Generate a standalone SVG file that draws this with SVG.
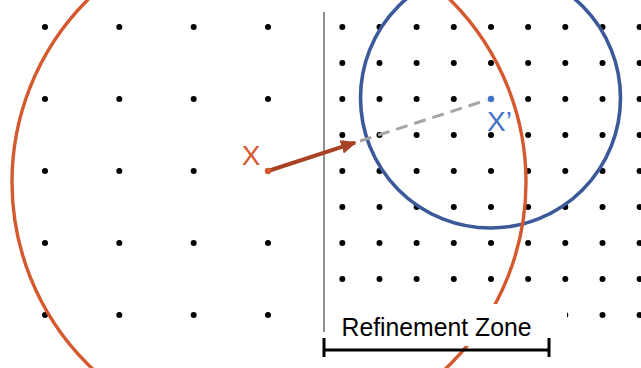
<svg xmlns="http://www.w3.org/2000/svg" width="641" height="368" viewBox="0 0 641 368">
  <defs>
    <style>
      .dot { fill: #000; }
      .lbl { font-family: "Liberation Sans", Arial, sans-serif; }
    </style>
    <marker id="ah" markerUnits="userSpaceOnUse" markerWidth="16" markerHeight="14" refX="14" refY="7" orient="auto">
      <path d="M0,0 L16,7 L0,14 Z" fill="#A94326"/>
    </marker>
  </defs>
  <rect width="641" height="368" fill="#fff"/>

  <g id="coarse-grid">
    <circle class="dot" cx="45" cy="27" r="3"/><circle class="dot" cx="119.3" cy="27" r="3"/><circle class="dot" cx="193.7" cy="27" r="3"/><circle class="dot" cx="268" cy="27" r="3"/>
    <circle class="dot" cx="45" cy="99" r="3"/><circle class="dot" cx="119.3" cy="99" r="3"/><circle class="dot" cx="193.7" cy="99" r="3"/><circle class="dot" cx="268" cy="99" r="3"/>
    <circle class="dot" cx="45" cy="171" r="3"/><circle class="dot" cx="119.3" cy="171" r="3"/><circle class="dot" cx="193.7" cy="171" r="3"/>
    <circle class="dot" cx="45" cy="243" r="3"/><circle class="dot" cx="119.3" cy="243" r="3"/><circle class="dot" cx="193.7" cy="243" r="3"/><circle class="dot" cx="268" cy="243" r="3"/>
    <circle class="dot" cx="45" cy="315" r="3"/><circle class="dot" cx="119.3" cy="315" r="3"/><circle class="dot" cx="193.7" cy="315" r="3"/><circle class="dot" cx="268" cy="315" r="3"/>
  </g>

  <g id="fine-grid">
    <g id="row27"><circle class="dot" cx="342.3" cy="27" r="3"/><circle class="dot" cx="379.5" cy="27" r="3"/><circle class="dot" cx="416.6" cy="27" r="3"/><circle class="dot" cx="453.8" cy="27" r="3"/><circle class="dot" cx="491" cy="27" r="3"/><circle class="dot" cx="528.1" cy="27" r="3"/><circle class="dot" cx="565.3" cy="27" r="3"/><circle class="dot" cx="602.5" cy="27" r="3"/><circle class="dot" cx="639.6" cy="27" r="3"/></g>
    <g id="row63"><circle class="dot" cx="342.3" cy="63" r="3"/><circle class="dot" cx="379.5" cy="63" r="3"/><circle class="dot" cx="416.6" cy="63" r="3"/><circle class="dot" cx="453.8" cy="63" r="3"/><circle class="dot" cx="491" cy="63" r="3"/><circle class="dot" cx="528.1" cy="63" r="3"/><circle class="dot" cx="565.3" cy="63" r="3"/><circle class="dot" cx="602.5" cy="63" r="3"/><circle class="dot" cx="639.6" cy="63" r="3"/></g>
    <g id="row99"><circle class="dot" cx="342.3" cy="99" r="3"/><circle class="dot" cx="379.5" cy="99" r="3"/><circle class="dot" cx="416.6" cy="99" r="3"/><circle class="dot" cx="453.8" cy="99" r="3"/><circle class="dot" cx="528.1" cy="99" r="3"/><circle class="dot" cx="565.3" cy="99" r="3"/><circle class="dot" cx="602.5" cy="99" r="3"/><circle class="dot" cx="639.6" cy="99" r="3"/></g>
    <g id="row135"><circle class="dot" cx="342.3" cy="135" r="3"/><circle class="dot" cx="379.5" cy="135" r="3"/><circle class="dot" cx="416.6" cy="135" r="3"/><circle class="dot" cx="453.8" cy="135" r="3"/><circle class="dot" cx="491" cy="135" r="3"/><circle class="dot" cx="528.1" cy="135" r="3"/><circle class="dot" cx="565.3" cy="135" r="3"/><circle class="dot" cx="602.5" cy="135" r="3"/><circle class="dot" cx="639.6" cy="135" r="3"/></g>
    <g id="row171"><circle class="dot" cx="342.3" cy="171" r="3"/><circle class="dot" cx="379.5" cy="171" r="3"/><circle class="dot" cx="416.6" cy="171" r="3"/><circle class="dot" cx="453.8" cy="171" r="3"/><circle class="dot" cx="491" cy="171" r="3"/><circle class="dot" cx="528.1" cy="171" r="3"/><circle class="dot" cx="565.3" cy="171" r="3"/><circle class="dot" cx="602.5" cy="171" r="3"/><circle class="dot" cx="639.6" cy="171" r="3"/></g>
    <g id="row207"><circle class="dot" cx="342.3" cy="207" r="3"/><circle class="dot" cx="379.5" cy="207" r="3"/><circle class="dot" cx="416.6" cy="207" r="3"/><circle class="dot" cx="453.8" cy="207" r="3"/><circle class="dot" cx="491" cy="207" r="3"/><circle class="dot" cx="528.1" cy="207" r="3"/><circle class="dot" cx="565.3" cy="207" r="3"/><circle class="dot" cx="602.5" cy="207" r="3"/><circle class="dot" cx="639.6" cy="207" r="3"/></g>
    <g id="row243"><circle class="dot" cx="342.3" cy="243" r="3"/><circle class="dot" cx="379.5" cy="243" r="3"/><circle class="dot" cx="416.6" cy="243" r="3"/><circle class="dot" cx="453.8" cy="243" r="3"/><circle class="dot" cx="491" cy="243" r="3"/><circle class="dot" cx="528.1" cy="243" r="3"/><circle class="dot" cx="565.3" cy="243" r="3"/><circle class="dot" cx="602.5" cy="243" r="3"/><circle class="dot" cx="639.6" cy="243" r="3"/></g>
    <g id="row279"><circle class="dot" cx="342.3" cy="279" r="3"/><circle class="dot" cx="379.5" cy="279" r="3"/><circle class="dot" cx="416.6" cy="279" r="3"/><circle class="dot" cx="453.8" cy="279" r="3"/><circle class="dot" cx="491" cy="279" r="3"/><circle class="dot" cx="528.1" cy="279" r="3"/><circle class="dot" cx="565.3" cy="279" r="3"/><circle class="dot" cx="602.5" cy="279" r="3"/><circle class="dot" cx="639.6" cy="279" r="3"/></g>
    <g id="row315"><circle class="dot" cx="342.3" cy="315" r="3"/><circle class="dot" cx="379.5" cy="315" r="3"/><circle class="dot" cx="416.6" cy="315" r="3"/><circle class="dot" cx="453.8" cy="315" r="3"/><circle class="dot" cx="491" cy="315" r="3"/><circle class="dot" cx="528.1" cy="315" r="3"/><circle class="dot" cx="565.3" cy="315" r="3"/><circle class="dot" cx="602.5" cy="315" r="3"/><circle class="dot" cx="639.6" cy="315" r="3"/></g>
  </g>

  <g id="zone-divider">
    <line x1="324" y1="12" x2="324" y2="332" stroke="#222" stroke-width="1"/>
  </g>

  <g id="blue-circle">
    <circle cx="490.5" cy="98" r="130" fill="none" stroke="#3C5A9A" stroke-width="3.6"/>
  </g>

  <g id="red-circle">
    <circle cx="269" cy="182" r="257" fill="none" stroke="#D5592F" stroke-width="3.4"/>
  </g>

  <g id="connectors">
    <line x1="360" y1="141" x2="487" y2="100" stroke="#A6A6A6" stroke-width="3" stroke-dasharray="12,7"/>
    <line x1="268" y1="171" x2="355" y2="142.6" stroke="#A94326" stroke-width="4" marker-end="url(#ah)"/>
  </g>

  <g id="node-x">
    <circle cx="268" cy="171" r="3.2" fill="#D5592F"/>
    <text class="lbl" x="251" y="165" font-size="28" fill="#D5592F" text-anchor="middle">X</text>
  </g>

  <g id="node-xprime">
    <circle cx="491" cy="99" r="3.2" fill="#4472C4"/>
    <text class="lbl" x="487" y="131" font-size="28" fill="#4472C4">X’</text>
  </g>

  <g id="refinement-zone">
    <rect x="326" y="304" width="241" height="42" fill="#fff"/>
    <text class="lbl" x="341.5" y="336" font-size="25" fill="#000" textLength="190" lengthAdjust="spacingAndGlyphs">Refinement Zone</text>
    <path d="M324,350 H549 M324,338 V357 M549,338 V357" fill="none" stroke="#000" stroke-width="3"/>
  </g>
</svg>
